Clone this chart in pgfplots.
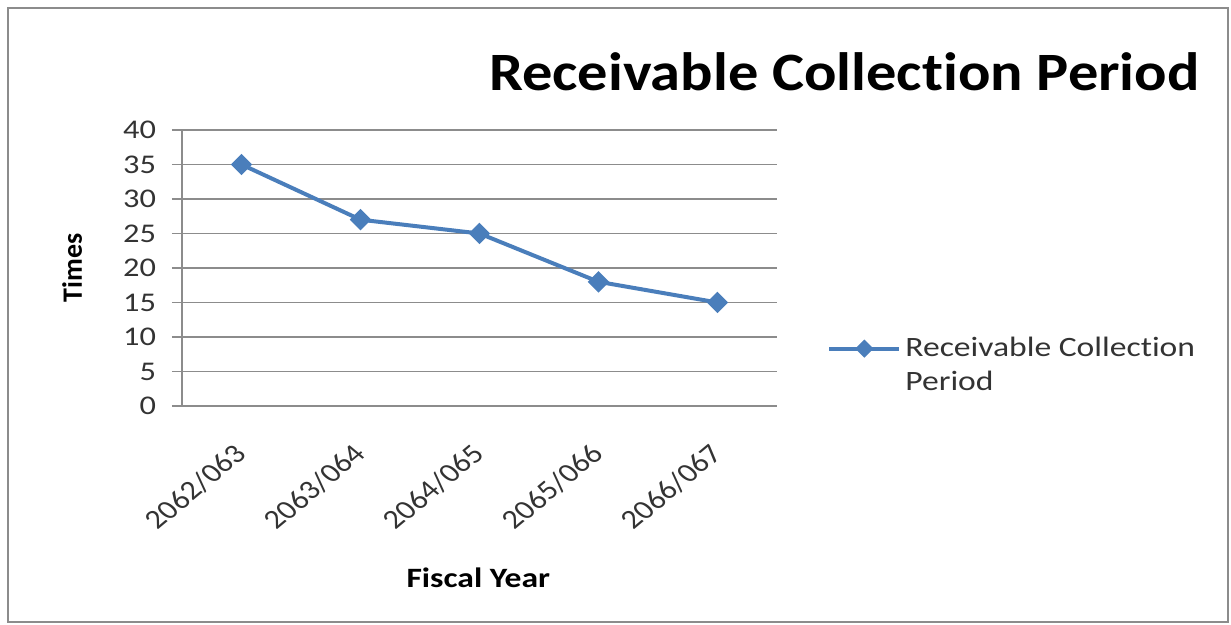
\documentclass[border=0pt]{standalone}
\usepackage{pgfplots}
\pgfplotsset{compat=1.18}
\usepackage{fontspec}
\setmainfont{Carlito}[FakeStretch=1.2, Ligatures={NoCommon,NoContextual}]
\newfontfamily\titlefont{Carlito}[FakeStretch=1.12, Ligatures={NoCommon,NoContextual}]
\newfontfamily\uprightfont{Carlito}[Ligatures={NoCommon,NoContextual}]

\definecolor{series}{HTML}{4A7EBB}
\definecolor{gridgray}{HTML}{8C8C8C}
\definecolor{textgray}{HTML}{333333}

% "Collection" with t and i kept as separate letters
\newcommand{\Coll}{Collect\kern0pt ion}
% slanted category label, widened like the rest of the horizontal text
\newcommand{\catlabel}[1]{\scalebox{1.2}[1]{\rotatebox{45}{\uprightfont\fontsize{13.5}{16}\selectfont #1}}}

\begin{document}
\begin{tikzpicture}
% page area and chart frame
\path[use as bounding box] (0,0) rectangle (615.5pt,312.5pt);
\draw[gridgray, line width=1pt] (4pt,1.5pt) rectangle (614pt,308.5pt);

\begin{axis}[
  at={(91pt,109.5pt)}, anchor=south west,
  scale only axis, width=297.5pt, height=138pt,
  xmin=-0.5, xmax=4.5, ymin=0, ymax=40,
  xtick={0,1,2,3,4},
  xticklabels={\catlabel{2062/063},\catlabel{2063/064},\catlabel{2064/065},\catlabel{2065/066},\catlabel{2066/067}},
  ytick={0,5,...,40},
  /pgf/number format/assume math mode=true,
  axis x line*=bottom, axis y line*=left,
  axis line style={gridgray, line width=0.9pt, -},
  ymajorgrids, grid style={gridgray, line width=0.9pt},
  tick align=outside, major tick length=5pt,
  ytick style={gridgray, line width=0.9pt},
  xtick style={draw=none},
  tick label style={text=textgray},
  yticklabel style={font=\fontsize{13.5}{15}\selectfont, xshift=-4.5pt},
  xticklabel style={anchor=north east, inner sep=0pt, yshift=-13pt, xshift=4pt},
  title={\titlefont\bfseries Receivable \Coll{} Period},
  title style={font=\fontsize{27}{32}\selectfont, at={(axis description cs:1.1133,1.168)}, anchor=center},
  ylabel={\uprightfont\bfseries Times},
  ylabel style={font=\fontsize{14}{16}\selectfont, at={(axis description cs:-0.1846,0.5)}, anchor=center, rotate=0},
  xlabel={\bfseries Fiscal Year},
  xlabel style={font=\fontsize{14}{16}\selectfont, at={(axis description cs:0.498,-0.623)}, anchor=center},
  legend style={at={(axis description cs:1.084,0.2645)}, anchor=north west,
    draw=none, fill=none, inner sep=0pt,
    font=\fontsize{14}{17}\selectfont, text=textgray,
    cells={align=left}},
  legend cell align=left,
  legend image code/.code={%
    \draw[#1, mark repeat=2, mark phase=2, yshift=8.5pt, mark size=2.2pt]
      plot coordinates {(0pt,0pt) (17.5pt,0pt) (35pt,0pt)};},
  clip=false,
]
\addplot[series, line width=2pt, mark=square*, mark size=2.8pt,
  mark options={solid, fill=series, rotate=45}]
  coordinates {(0,35) (1,27) (2,25) (3,18) (4,15)};
\addlegendentry{Receivable \Coll\\Period}
\end{axis}
\end{tikzpicture}
\end{document}
